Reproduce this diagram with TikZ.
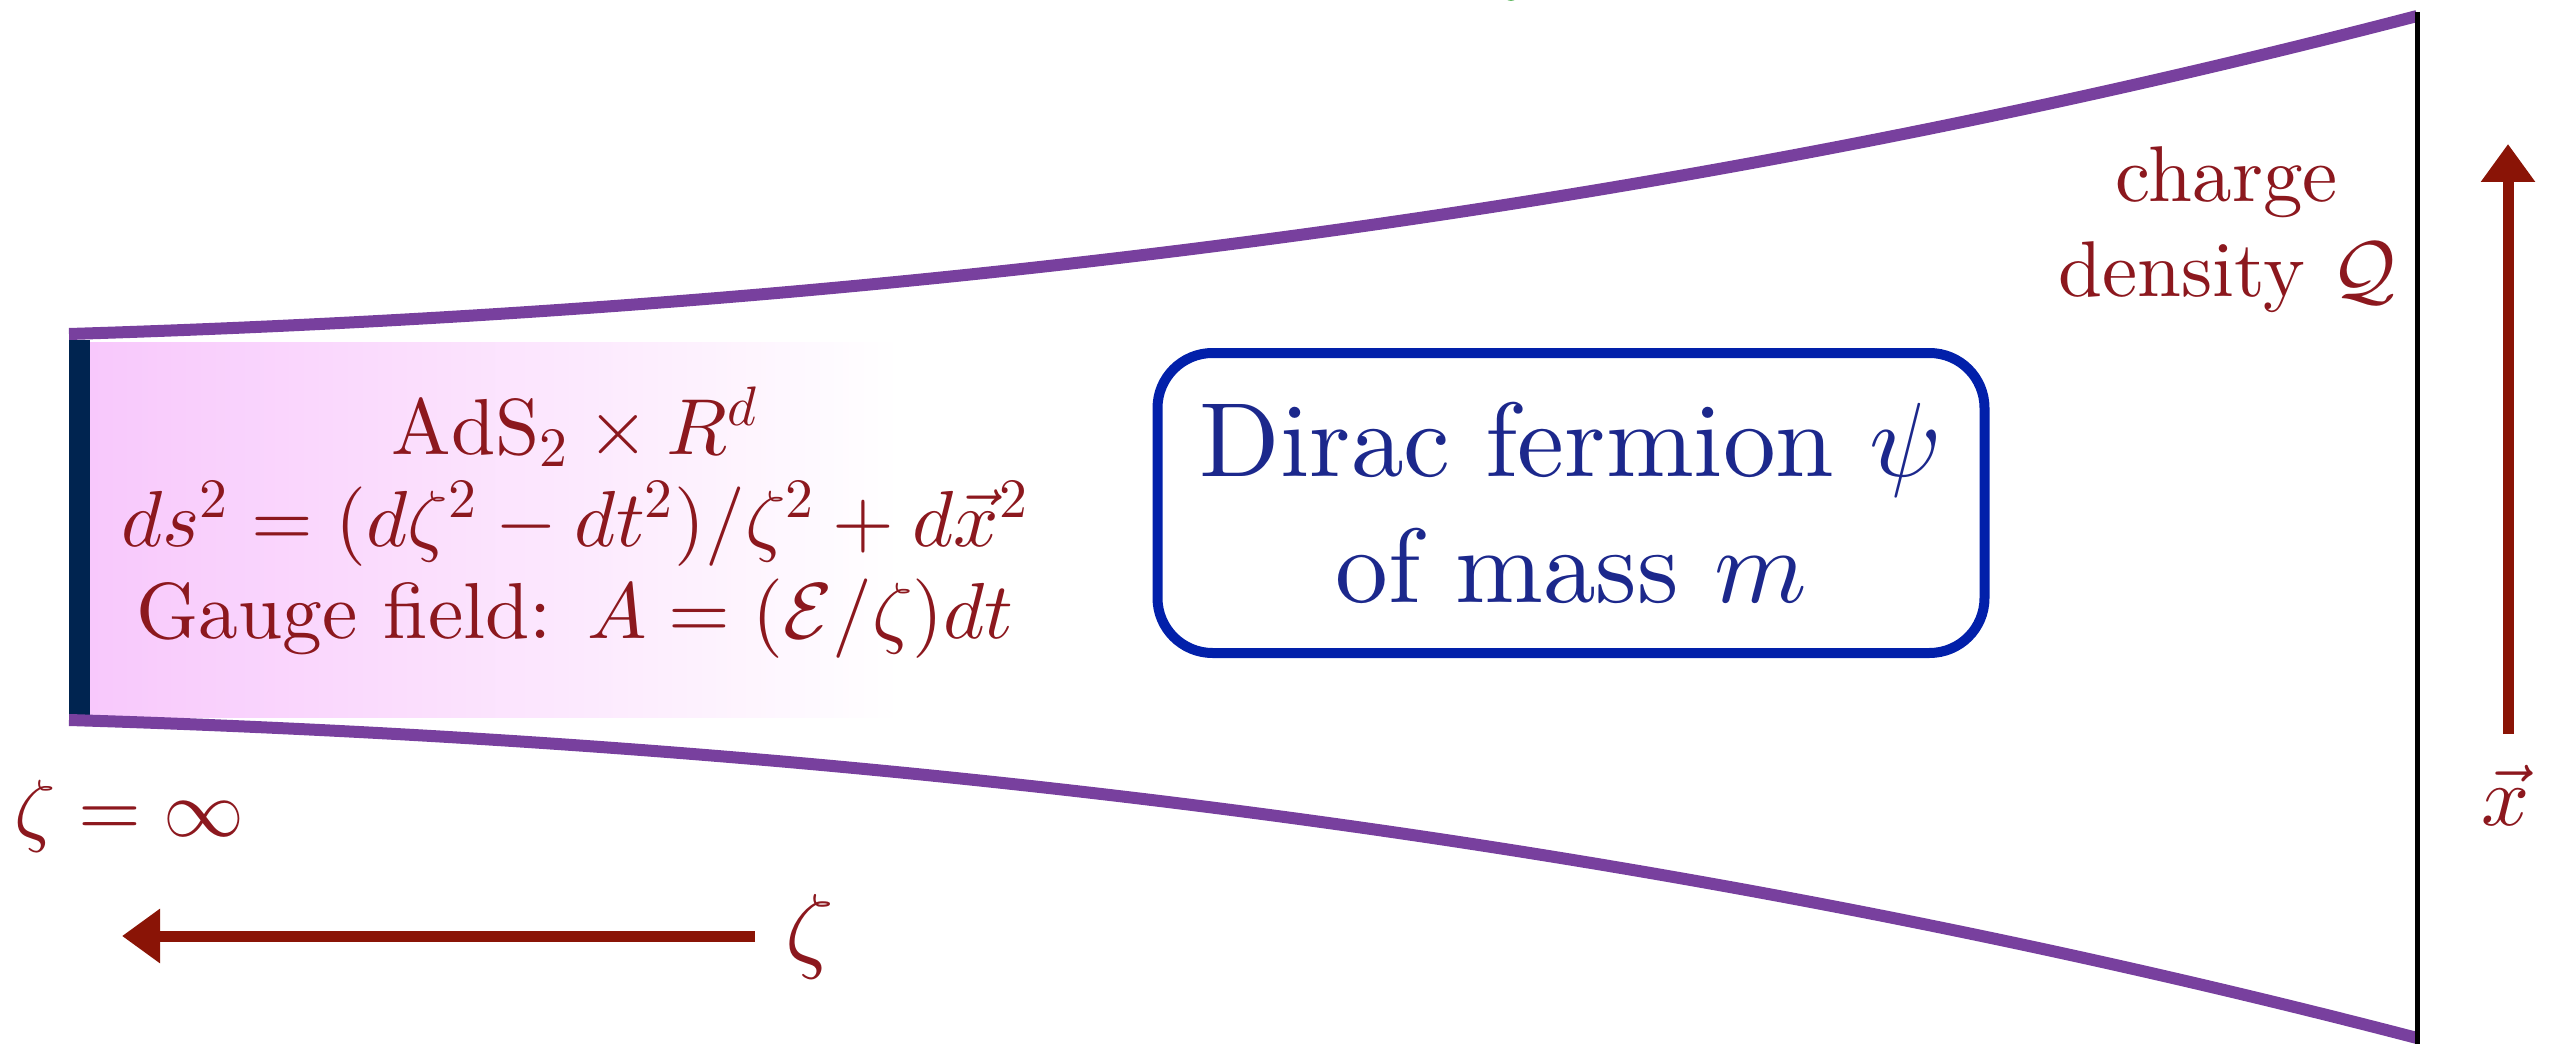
\documentclass[tikz,border=0pt]{standalone}
\usepackage{fontspec}
\setmainfont{lmroman10-regular.otf}[ItalicFont=lmroman10-italic.otf, BoldFont=lmroman10-bold.otf, BoldItalicFont=lmroman10-bolditalic.otf]
\usepackage{amsmath}
\usepackage{tikz}
\usetikzlibrary{arrows.meta, positioning, calc}
\usepackage{xcolor}

% math fonts at one design size, scaled freely
\DeclareFontFamily{OML}{cmm}{\skewchar\font127 }
\DeclareFontShape{OML}{cmm}{m}{it}{<->cmmi10}{}
\DeclareFontFamily{OMS}{cmsy}{\skewchar\font48 }
\DeclareFontShape{OMS}{cmsy}{m}{n}{<->cmsy10}{}
\DeclareFontFamily{OT1}{cmr}{\hyphenchar\font45 }
\DeclareFontShape{OT1}{cmr}{m}{n}{<->cmr10}{}
\DeclareFontFamily{OMX}{cmex}{}
\DeclareFontShape{OMX}{cmex}{m}{n}{<->cmex10}{}

\definecolor{labelred}{RGB}{140,24,30}
\definecolor{arrowred}{RGB}{138,20,6}
\definecolor{wallpurple}{RGB}{120,64,158}
\definecolor{horizonblue}{RGB}{0,36,80}
\definecolor{boxblue}{RGB}{2,32,170}
\definecolor{boxtext}{RGB}{28,40,140}
\definecolor{pinkfill}{RGB}{248,200,252}

\begin{document}
\begin{tikzpicture}[
        redtext/.style={text=labelred, inner sep=0pt},
        bigarrow/.style={line width=1.1mm, arrowred, -{Triangle[width=5.2mm,length=3.8mm]}},
        wall/.style={line width=1.2mm, wallpurple},
    ]
        \useasboundingbox (0,0) rectangle (25.6,10.44);
        \clip (0,0) rectangle (25.6,10.44);

        % Regione vicino all'orizzonte
        \shade[left color=pinkfill, right color=white] (0.90,3.27) rectangle (9.0,7.02);
        \draw[line width=2.1mm, horizonblue] (0.795,3.27) -- (0.795,7.04);

        % Pareti
        \draw[wall] (0.69,7.10) .. controls (8.52,7.34) and (16.34,8.24) .. (24.17,10.28);
        \draw[wall] (0.69,3.24) .. controls (8.52,3.00) and (16.34,2.10) .. (24.17,0.06);
        \draw[line width=0.5mm, black] (24.17,10.32) -- (24.17,0);
        \fill[green!55!black!60] (15.11,10.50) circle (0.07);

        % Testo
        \node[redtext, align=center, font=\fontsize{22.6}{26.2}\selectfont] (ads) at (5.75,5.21)
            {$\mathrm{AdS}_2\times R^d$\\ $ds^2=(d\zeta^2-dt^2)/\zeta^2+d\vec{x}^2$\\ Gauge field: $A=(\mathcal{E}/\zeta)dt$};
        \node[draw=boxblue, line width=1mm, rounded corners=0.55cm, minimum width=8.27cm, minimum height=3.0cm,
            text=boxtext, align=center, font=\fontsize{30}{35.9}\selectfont] (dirac) at (15.71,5.41)
            {Dirac fermion $\psi$\\ of mass $m$};
        \node[redtext, align=center, font=\fontsize{22.5}{27}\selectfont] (charge) at (22.27,8.145)
            {charge\\ density $\mathcal{Q}$};
        \node[redtext, anchor=base west, font=\fontsize{23}{27}\selectfont] (zinf) at (0.14,2.08) {$\zeta=\infty$};

        % Frecce
        \node[redtext, anchor=west, font=\fontsize{27}{31}\selectfont] (zlab) at (7.85,1.07) {$\zeta$};
        \coordinate (ztip) at (1.22,1.08);
        \draw[bigarrow] ([xshift=-0.3cm]zlab.west |- ztip) -- (ztip);

        \node[redtext, anchor=base, font=\fontsize{24}{28}\selectfont] (xlab) at (25.06,2.19) {$\vec{x}$};
        \coordinate (xtip) at (25.08,9.00);
        \draw[bigarrow] ([yshift=0.3cm]xlab.north -| xtip) -- (xtip);
    \end{tikzpicture}
\end{document}
